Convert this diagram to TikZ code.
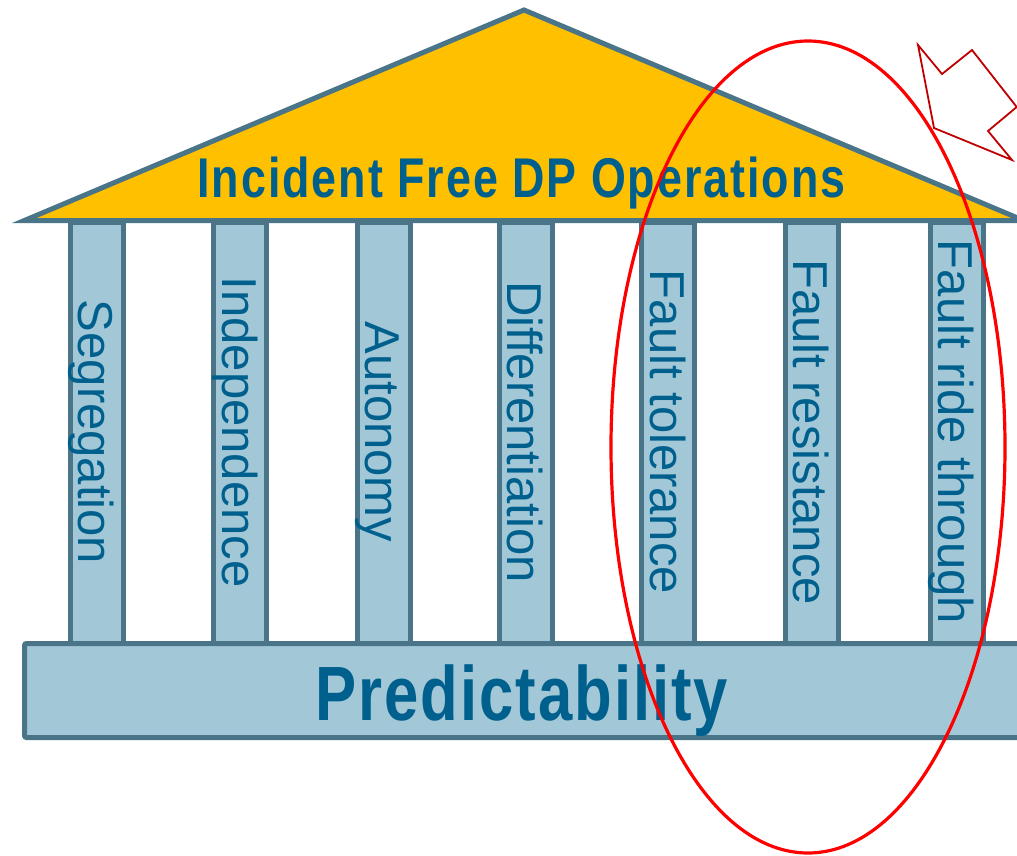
\documentclass[tikz,border=0pt]{standalone}
\usepackage{fontspec}
\setmainfont{Liberation Sans}
\definecolor{slate}{HTML}{4A7589}
\definecolor{pillarblue}{HTML}{A2C7D7}
\definecolor{roofgold}{HTML}{FFC000}
\definecolor{inkblue}{HTML}{00608D}
\definecolor{markred}{HTML}{FF0000}
\definecolor{arrowred}{HTML}{C00000}
\tikzset{
  pillar/.style={draw=slate, fill=pillarblue, line width=5pt},
  roof/.style={draw=slate, fill=roofgold, line width=5pt, line join=miter},
  plinth/.style={draw=slate, fill=pillarblue, line width=5pt, rounded corners=2pt},
  pillarlabel/.style={text=inkblue, font=\fontsize{49}{55}\selectfont, rotate=-90, anchor=base, inner sep=0pt},
  rooflabel/.style={text=inkblue, font=\bfseries\fontsize{56}{60}\selectfont\addfontfeature{LetterSpace=4.4}, anchor=base, inner sep=0pt},
  plinthlabel/.style={text=inkblue, font=\bfseries\fontsize{77}{80}\selectfont\addfontfeature{LetterSpace=3.2}, anchor=base, inner sep=0pt},
  highlight/.style={draw=markred, line width=3.2pt},
  pointer/.style={draw=arrowred, fill=white, line width=1.8pt, line join=miter}
}
\begin{document}
\begin{tikzpicture}[x=1pt, y=-1pt]
  \useasboundingbox (0,0) rectangle (1017,856);
  \clip (0,0) rectangle (1017,856);

  % columns
  \foreach \cx/\name/\txt in {96.5/seg/Segregation, 240/ind/Independence, 383.5/aut/Autonomy,
      525.5/dif/Differentiation, 668/ftol/Fault tolerance, 811.5/fres/Fault resistance,
      956.5/fride/Fault ride through} {
    \draw[pillar] (\cx-26.5,222) rectangle (\cx+26.5,643);
    \node[pillarlabel] (\name) at (\cx-18,432) {\txt};
  }

  % roof
  \draw[roof] (24.4,220.5) -- (524,10) -- (1023.6,220.5) -- cycle;
  \node[rooflabel] (title) at (521.5,197) {\scalebox{0.8}[1]{Incident Free DP Operations}};

  % foundation
  \draw[plinth] (24.5,643.5) rectangle (1026.5,737.5);
  \node[plinthlabel] (base) at (522,720) {\scalebox{0.8}[1]{Predictability}};

  % emphasis ring
  \draw[highlight] (808,447) ellipse [x radius=197, y radius=406];

  % pointer arrow
  \draw[pointer] (918,45) -- (942,74) -- (972,50) -- (1016.7,107) -- (988,131)
    -- (1012,160) -- (934,128) -- cycle;
\end{tikzpicture}
\end{document}
